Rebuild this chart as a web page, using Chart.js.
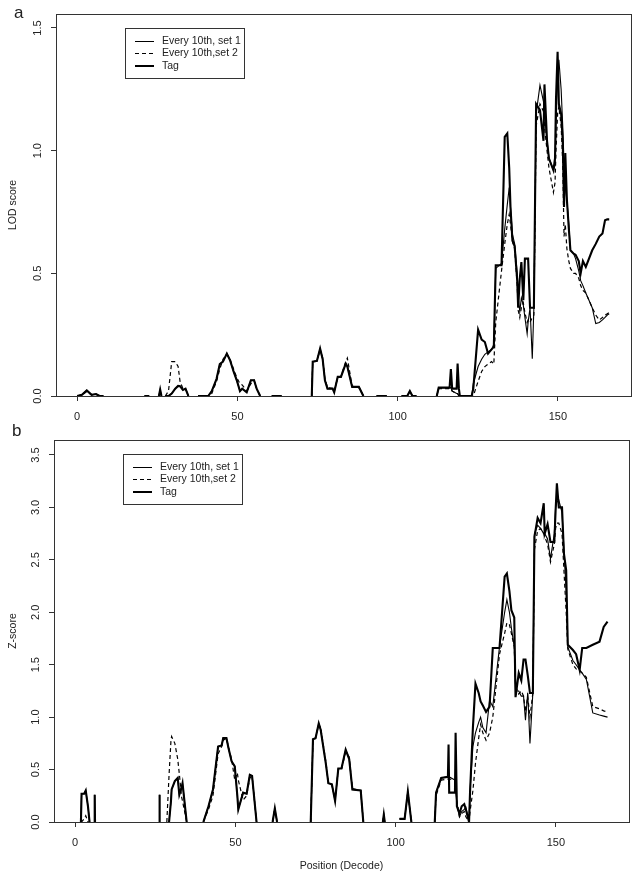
<!DOCTYPE html>
<html>
<head>
<meta charset="utf-8">
<script src="https://cdn.jsdelivr.net/npm/chart.js@4.4.0/dist/chart.umd.min.js"></script>
<style>
body { margin:0; background:#fff; width:639px; height:878px; position:relative; overflow:hidden; font-family:"Liberation Sans", Arial, sans-serif; }
canvas { position:absolute; left:0; }
#ca { top:0; }
#cb { top:428px; }
.panel { position:absolute; font-size:17px; line-height:17px; color:#222; }
</style>
</head>
<body>
<canvas id="ca" width="639" height="430"></canvas>
<canvas id="cb" width="639" height="450"></canvas>
<div class="panel" style="left:14px;top:4px">a</div>
<div class="panel" style="left:12px;top:422px">b</div>
<script>
var FONT = '"Liberation Sans", Arial, sans-serif';
var labels = ["Every 10th, set 1", "Every 10th,set 2", "Tag"];
var xTicks = [0, 50, 100, 150];
var yTicksA = [0, 0.5, 1.0, 1.5];
var yTicksB = [0, 0.5, 1.0, 1.5, 2.0, 2.5, 3.0, 3.5];

// panel a: LOD score (null = break in the line)
var posA = [0, 1.5, 3, 4.5, 5.9, 7, 8.2, 15,
    21, 22.5, 24,
    25.5, 25.9, 26.3, 27,
    27.5, 28.5, 29.5, 30.6, 31.5, 32.1, 33, 33.8, 34.7, 36,
    37.7, 40.9, 42, 43.5, 44.5, 45.5, 46.7, 47.7, 48.8, 49.8, 50.8, 51.5, 52.9, 54.2, 55.2, 56, 57.1, 59,
    60.7, 63.8, 68,
    73.2, 73.5, 74.8, 75.8, 76.6, 77.3, 78.1, 79.7, 80.2, 81.3, 82.3, 83.8, 84.3, 85.8, 87.9, 89.3, 91,
    93.4, 96.6, 99,
    101.2, 103, 103.8, 104.6, 105.9, 109,
    112.2, 112.8, 116.2, 116.6, 117, 118.4, 118.7, 119.1, 119.4, 123.1,
    123.6, 125.1, 126.2, 127.2, 128.2, 129.3, 130, 130.6, 132.4, 133.4,
    134.2, 134.8, 135.2, 135.8, 136.5, 137.3, 137.6, 138.1, 138.6, 139.2,
    139.7, 140.4, 140.7, 141.3, 142, 142.5, 143.2, 144.4, 145.5, 145.8,
    146.6, 147.2, 148.6, 149.1, 149.4, 149.9, 150.3, 151, 151.5, 151.9,
    152.3, 152.8, 153.4, 153.9, 154.9, 155.5, 156.5, 157.1, 157.8, 158.7,
    160.7, 161.8, 162.9, 163.9, 164.7, 165.4, 166];
var set1A = [0, 0.005, 0.023, 0.005, 0.008, 0, 0, null,
    0, 0, null,
    0, 0.026, 0, null,
    0, 0, 0.01, 0.03, 0.041, 0.04, 0.025, 0.03, 0, null,
    0, 0, 0.02, 0.07, 0.13, 0.14, 0.173, 0.146, 0.1, 0.064, 0.02, 0.03, 0.015, 0.064, 0.064, 0.03, 0, null,
    0, 0, null,
    0, 0.14, 0.143, 0.193, 0.15, 0.064, 0.03, 0.03, 0.015, 0.078, 0.078, 0.132, 0.12, 0.037, 0.037, 0, null,
    0, 0, null,
    0, 0, 0.02, 0, 0, null,
    0, 0.034, 0.034, 0.034, 0.02, 0.01, 0.01, 0, 0, 0,
    0.05, 0.12, 0.15, 0.17, 0.18, 0.19, 0.21, 0.52, 0.54, 0.68,
    0.78, 0.85, 0.77, 0.66, 0.62, 0.5, 0.4, 0.345, 0.4, 0.37,
    0.32, 0.254, 0.3, 0.36, 0.152, 0.36, 1.15, 1.267, 1.2, 1.15,
    1.04, 0.97, 0.92, 0.94, 1.1, 1.3, 1.37, 1.25, 1.1, 0.95,
    0.85, 0.8, 0.7, 0.594, 0.58, 0.56, 0.51, 0.47, 0.45, 0.42,
    0.36, 0.295, 0.3, 0.31, 0.32, 0.33, 0.335];
var set2A = [0, 0.004, 0.018, 0.005, 0.006, 0, 0, null,
    0, 0, null,
    0, 0.01, 0, null,
    0, 0.02, 0.14, 0.14, 0.12, 0.06, 0.03, 0.03, 0, null,
    0, 0, 0.01, 0.06, 0.11, 0.15, 0.17, 0.15, 0.11, 0.075, 0.05, 0.045, 0.02, 0.05, 0.064, 0.03, 0, null,
    0, 0, null,
    0, 0.14, 0.143, 0.19, 0.155, 0.07, 0.035, 0.03, 0.02, 0.075, 0.08, 0.14, 0.155, 0.04, 0.035, 0, null,
    0, 0, null,
    0, 0, 0.02, 0, 0, null,
    0, 0.03, 0.03, 0.03, 0.02, 0.01, 0.01, 0, 0, 0,
    0, 0.06, 0.1, 0.12, 0.13, 0.14, 0.13, 0.3, 0.51, 0.62,
    0.7, 0.74, 0.7, 0.63, 0.6, 0.45, 0.35, 0.32, 0.36, 0.38,
    0.34, 0.3, 0.31, 0.3, 0.32, 0.33, 1.1, 1.19, 1.16, 1.1,
    1.0, 0.93, 0.83, 0.87, 1.0, 1.15, 1.18, 1.1, 0.95, 0.65,
    0.7, 0.6, 0.55, 0.52, 0.5, 0.5, 0.48, 0.45, 0.43, 0.42,
    0.36, 0.33, 0.31, 0.32, 0.33, 0.335, 0.34];
var tagA = [0, 0.005, 0.023, 0.005, 0.008, 0, 0, null,
    0, 0, null,
    0, 0.026, 0, null,
    0, 0, 0.01, 0.03, 0.041, 0.04, 0.025, 0.03, 0, null,
    0, 0, 0.02, 0.07, 0.13, 0.14, 0.173, 0.146, 0.1, 0.064, 0.02, 0.03, 0.015, 0.064, 0.064, 0.03, 0, null,
    0, 0, null,
    0, 0.14, 0.143, 0.193, 0.15, 0.064, 0.03, 0.03, 0.015, 0.078, 0.078, 0.132, 0.12, 0.037, 0.037, 0, null,
    0, 0, null,
    0, 0, 0.02, 0, 0, null,
    0, 0.034, 0.034, 0.11, 0.03, 0.03, 0.132, 0.03, 0, 0,
    0.03, 0.27, 0.23, 0.22, 0.173, 0.19, 0.2, 0.533, 0.533, 1.056,
    1.07, 0.93, 0.77, 0.635, 0.61, 0.47, 0.36, 0.48, 0.546, 0.39,
    0.56, 0.56, 0.56, 0.36, 0.36, 0.36, 1.19, 1.165, 1.04, 1.27,
    1.04, 0.968, 0.92, 0.97, 1.21, 1.403, 1.19, 1.15, 1.04, 0.77,
    0.99, 0.8, 0.682, 0.594, 0.58, 0.576, 0.55, 0.5, 0.55, 0.526,
    0.594, 0.62, 0.65, 0.662, 0.716, 0.72, 0.72];

// panel b: Z-score
var posB = [1.8, 2.0, 2.8, 3.3, 4.0, 4.5, 5.3, 6.0, 6.1, 6.2, 7,
    26.2, 26.3, 26.4, 27.5,
    28.6, 29.3, 29.9, 30.1, 31.1, 32, 32.5, 33.2, 33.5, 34.8, 37,
    40, 41.6, 43, 44.6, 45.7, 46.2, 47.2, 47.8, 48.8, 49.8, 50.6, 50.9, 52.4, 53.5, 54.5, 55.2, 56.6, 59,
    61.6, 62.3, 63, 68,
    73.5, 74.2, 75, 76, 76.6, 78.2, 79, 80.1, 81.1, 82.1, 83.1, 84.4, 85.5, 86.5, 89.1, 89.9, 93,
    96, 96.3, 96.6, 99,
    101.2, 102.8, 103.8, 104.9, 108,
    112.2, 112.6, 114.2, 116.3, 116.5, 116.7, 118.5, 118.7, 119.1, 119.9,
    120.6, 121.4, 121.9, 122.9, 123.2, 124.1, 124.9, 125.9, 126.5, 127.2,
    128.2, 129.3, 130.3, 132.4, 134, 134.7, 135.5, 136.1, 137, 137.4,
    138.4, 139.2, 139.9, 140.5, 141.2, 141.9, 142.8, 143.3, 144.3, 145.2,
    146.2, 146.5, 147.4, 148.3, 149.5, 149.9, 150.3, 150.9, 151.9, 152.5,
    153.2, 153.7, 155.3, 156.3, 157.4, 158.2, 159.5, 161.5, 163.6, 164.9,
    166.1];
var set1B = [0, 0.27, 0.27, 0.30, 0.15, 0, null, 0, 0.26, 0, null,
    0, 0.26, 0, null,
    null, 0, 0.2, 0.31, 0.39, 0.42, 0.26, 0.33, 0.37, 0, null,
    0, 0.15, 0.31, 0.72, 0.73, 0.8, 0.8, 0.71, 0.58, 0.53, 0.25, 0.12, 0.28, 0.27, 0.45, 0.44, 0, null,
    0, 0.13, 0, null,
    0, 0.79, 0.8, 0.94, 0.88, 0.56, 0.37, 0.36, 0.2, 0.51, 0.51, 0.69, 0.6, 0.31, 0.3, 0, null,
    0, 0.07, 0, null,
    0.03, 0.03, 0.29, 0, null,
    0, 0.28, 0.42, 0.43, 0.43, 0.43, 0.4, 0.3, 0.18, 0.05,
    0.1, 0.12, 0.14, 0, 0.3, 0.72, 0.85, 0.95, 1.0, 0.9,
    0.85, 1.16, 1.1, 1.67, 2.0, 2.12, 2.0, 1.85, 1.67, 1.25,
    1.25, 1.2, 1.2, 0.97, 1.23, 0.75, 1.23, 2.75, 2.83, 2.8,
    2.75, 2.75, 2.7, 2.51, 2.75, 3.0, 3.05, 3.07, 2.95, 2.6,
    2.2, 1.67, 1.54, 1.5, 1.45, 1.42, 1.36, 1.04, 1.02, 1.01,
    1.0];
var set2B = [0, 0, 0.03, 0.06, 0, 0, null, null, null, null, null,
    null, null, null, null,
    0, 0.45, 0.78, 0.815, 0.75, 0.6, 0.46, 0.24, 0.2, 0, null,
    0, 0.12, 0.25, 0.65, 0.72, 0.78, 0.8, 0.72, 0.6, 0.4, 0.47, 0.4, 0.21, 0.25, 0.42, 0.44, 0, null,
    0, 0.13, 0, null,
    0, 0.78, 0.8, 0.93, 0.9, 0.58, 0.38, 0.35, 0.22, 0.5, 0.5, 0.67, 0.62, 0.32, 0.3, 0, null,
    0, 0.07, 0, null,
    0.03, 0.03, 0.29, 0, null,
    0, 0.25, 0.4, 0.41, 0.41, 0.41, 0.4, 0.35, 0.2, 0.05,
    0.08, 0.1, 0.05, 0, 0.1, 0.3, 0.56, 0.8, 0.93, 0.85,
    0.78, 0.85, 1.0, 1.6, 1.8, 1.9, 1.88, 1.8, 1.67, 1.3,
    1.22, 1.25, 1.2, 1.05, 1.2, 1.0, 1.23, 2.6, 2.78, 2.8,
    2.75, 2.72, 2.65, 2.48, 2.65, 2.8, 2.85, 2.85, 2.75, 2.4,
    2.0, 1.65, 1.5, 1.46, 1.44, 1.42, 1.38, 1.1, 1.08, 1.06,
    1.05];
var tagB = [0, 0.27, 0.27, 0.30, 0.15, 0, null, 0, 0.26, 0, null,
    0, 0.26, 0, null,
    null, 0, 0.2, 0.31, 0.39, 0.42, 0.26, 0.33, 0.37, 0, null,
    0, 0.15, 0.31, 0.72, 0.73, 0.8, 0.8, 0.71, 0.58, 0.53, 0.25, 0.12, 0.28, 0.27, 0.45, 0.44, 0, null,
    0, 0.13, 0, null,
    0, 0.79, 0.8, 0.94, 0.88, 0.56, 0.37, 0.36, 0.2, 0.51, 0.51, 0.69, 0.6, 0.31, 0.3, 0, null,
    0, 0.07, 0, null,
    0.03, 0.03, 0.29, 0, null,
    0, 0.28, 0.42, 0.43, 0.74, 0.28, 0.28, 0.85, 0.15, 0.08,
    0.15, 0.17, 0.12, 0, 0.28, 0.9, 1.32, 1.23, 1.15, 1.11,
    1.05, 1.1, 1.66, 1.66, 2.34, 2.37, 2.2, 2.02, 1.95, 1.19,
    1.42, 1.35, 1.55, 1.55, 1.4, 1.23, 1.23, 2.72, 2.9, 2.85,
    3.04, 2.75, 2.84, 2.67, 2.67, 2.97, 3.23, 3.0, 3.0, 2.56,
    2.4, 1.69, 1.64, 1.6, 1.45, 1.66, 1.66, 1.69, 1.72, 1.86,
    1.91];

function pts(pos, vals) {
    return pos.map(function (x, i) { return { x: x, y: vals[i] }; });
}

var frame = {
    id: 'frame',
    afterDraw: function (chart) {
        var c = chart.ctx, a = chart.chartArea;
        c.save();
        c.strokeStyle = '#333';
        c.lineWidth = 1;
        c.strokeRect(Math.round(a.left) + 0.5, Math.round(a.top) + 0.5, Math.round(a.right - a.left), Math.round(a.bottom - a.top));
        c.restore();
    }
};

var boxLegend = {
    id: 'boxLegend',
    afterDraw: function (chart, args, opts) {
        var c = chart.ctx, a = chart.chartArea;
        var x = Math.round(a.left + opts.dx), y = Math.round(a.top + opts.dy);
        c.save();
        c.fillStyle = '#fff';
        c.fillRect(x, y, 119, 50);
        c.strokeStyle = '#333';
        c.lineWidth = 1;
        c.strokeRect(x + 0.5, y + 0.5, 119, 50);
        c.font = '10.5px ' + FONT;
        c.textBaseline = 'middle';
        chart.data.datasets.forEach(function (ds, i) {
            var ly = Math.round(y + 13 + i * 12.3);
            c.beginPath();
            c.setLineDash(ds.borderDash || []);
            c.lineWidth = ds.borderWidth < 1.6 ? 1 : 2;
            c.strokeStyle = ds.borderColor;
            var off = c.lineWidth === 1 ? 0.5 : 0;
            c.moveTo(x + 10, ly + off);
            c.lineTo(x + 29, ly + off);
            c.stroke();
            c.setLineDash([]);
            c.fillStyle = '#222';
            c.fillText(ds.label, x + 37, ly);
        });
        c.restore();
    }
};

function makeChart(id, pos, s1, s2, tg, yMax, yTicks, yTitle, xTitle, pad, yW, xH, legendAt) {
    return new Chart(document.getElementById(id), {
        type: 'line',
        data: {
            datasets: [
                { label: labels[0], data: pts(pos, s1), borderColor: '#000', borderWidth: 1.1 },
                { label: labels[1], data: pts(pos, s2), borderColor: '#000', borderWidth: 1.2, borderDash: [4, 3] },
                { label: labels[2], data: pts(pos, tg), borderColor: '#000', borderWidth: 2.1 }
            ]
        },
        options: {
            responsive: false,
            animation: false,
            spanGaps: false,
            layout: { padding: pad },
            elements: { point: { radius: 0 }, line: { tension: 0, fill: false } },
            plugins: { legend: { display: false }, tooltip: { enabled: false }, boxLegend: legendAt },
            scales: {
                x: {
                    type: 'linear', min: -6.6, max: 172.8,
                    afterBuildTicks: function (s) { s.ticks = xTicks.map(function (v) { return { value: v }; }); },
                    afterFit: function (s) { s.height = xH; },
                    grid: { drawOnChartArea: false, drawTicks: true, tickLength: 5, color: '#333' },
                    border: { display: false },
                    ticks: { padding: 9, maxRotation: 0, color: '#222', font: { size: 11, family: FONT },
                        callback: function (v) { return String(v); } },
                    title: { display: !!xTitle, text: xTitle, color: '#222', font: { size: 10.5, family: FONT },
                        padding: { top: 0, bottom: 6 } }
                },
                y: {
                    type: 'linear', min: 0, max: yMax,
                    afterBuildTicks: function (s) { s.ticks = yTicks.map(function (v) { return { value: v }; }); },
                    afterFit: function (s) { s.width = yW; },
                    grid: { drawOnChartArea: false, drawTicks: true, tickLength: 5, color: '#333' },
                    border: { display: false },
                    ticks: { minRotation: 90, maxRotation: 90, crossAlign: 'center', padding: 5, color: '#222',
                        font: { size: 11, family: FONT },
                        callback: function (v) { return v.toFixed(1); } },
                    title: { display: true, text: yTitle, color: '#222', font: { size: 10.5, family: FONT },
                        padding: { top: 7, bottom: 0 } }
                }
            }
        },
        plugins: [frame, boxLegend]
    });
}

makeChart('ca', posA, set1A, set2A, tagA, 1.557, yTicksA, 'LOD score', '',
    { top: 14, right: 8, left: 0, bottom: 0 }, 56, 34, { dx: 69, dy: 14 });
makeChart('cb', posB, set1B, set2B, tagB, 3.643, yTicksB, 'Z-score', 'Position (Decode)',
    { top: 12, right: 10, left: 0, bottom: 0 }, 54, 56, { dx: 69, dy: 14 });
</script>
</body>
</html>
